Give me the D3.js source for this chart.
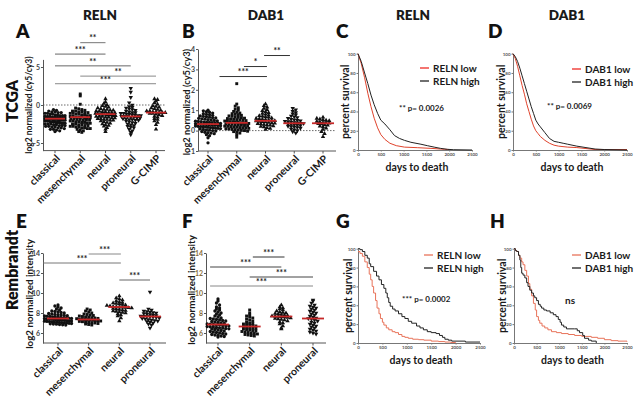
<!DOCTYPE html>
<html><head><meta charset="utf-8">
<script src="https://cdn.jsdelivr.net/npm/d3@7"></script>
<style>body{margin:0;background:#fff}svg{display:block}text{font-family:Lato,"Open Sans",sans-serif}</style>
</head><body><svg id="c" width="635" height="400"></svg>
<script>
// ---------- categories ----------
const catsTCGA = ["classical","mesenchymal","neural","proneural","G-CIMP"];
const catsRembrandt = ["classical","mesenchymal","neural","proneural"];

// ---------- A: TCGA RELN, log2 (cy5/cy3) ----------
const A_classical = [-3.5,-3.4,-3.3,-3.2,-3.2,-3.1,-3.0,-3.0,-2.9,-2.9,-2.8,-2.8,-2.7,-2.7,-2.7,-2.6,-2.6,-2.5,-2.5,-2.5,-2.4,-2.4,-2.4,-2.3,-2.3,-2.3,-2.2,-2.2,-2.2,-2.1,-2.1,-2.1,-2.0,-2.0,-2.0,-2.0,-1.9,-1.9,-1.9,-1.8,-1.8,-1.8,-1.8,-1.7,-1.7,-1.7,-1.6,-1.6,-1.6,-1.5,-1.5,-1.5,-1.4,-1.4,-1.4,-1.3,-1.3,-1.2,-1.2,-1.1,-1.1,-1.0,-1.0,-0.9,-0.9,-0.8,-0.7,-0.6];
const A_mesenchymal = [-3.6,-3.5,-3.4,-3.3,-3.2,-3.1,-3.1,-3.0,-3.0,-2.9,-2.9,-2.8,-2.8,-2.7,-2.7,-2.6,-2.6,-2.5,-2.5,-2.4,-2.4,-2.3,-2.3,-2.2,-2.2,-2.1,-2.1,-2.0,-2.0,-2.0,-1.9,-1.9,-1.8,-1.8,-1.7,-1.7,-1.7,-1.6,-1.6,-1.6,-1.5,-1.5,-1.4,-1.4,-1.3,-1.3,-1.2,-1.2,-1.1,-1.1,-1.0,-1.0,-0.9,-0.9,-0.8,-0.8,-0.7,-0.6,-0.5,-0.4,0.1,1.2,1.45];
const A_neural = [-3.5,-3.2,-3.0,-2.8,-2.7,-2.6,-2.5,-2.4,-2.3,-2.2,-2.1,-2.0,-2.0,-1.9,-1.9,-1.8,-1.8,-1.7,-1.7,-1.6,-1.6,-1.5,-1.5,-1.5,-1.4,-1.4,-1.3,-1.3,-1.3,-1.2,-1.2,-1.2,-1.1,-1.1,-1.0,-1.0,-1.0,-0.9,-0.9,-0.8,-0.8,-0.7,-0.7,-0.6,-0.6,-0.5,-0.4,-0.3,-0.2,-0.1,0.0,0.2,0.4,0.8];
const A_proneural = [-3.9,-3.6,-3.4,-3.2,-3.0,-2.9,-2.8,-2.7,-2.6,-2.5,-2.4,-2.3,-2.2,-2.1,-2.0,-2.0,-1.9,-1.9,-1.8,-1.8,-1.7,-1.7,-1.6,-1.6,-1.5,-1.5,-1.5,-1.4,-1.4,-1.3,-1.3,-1.2,-1.2,-1.1,-1.1,-1.0,-1.0,-0.9,-0.8,-0.7,-0.6,-0.5,-0.4,-0.3,-0.2,0.0,0.3,1.0,1.7,2.2];
const A_gcimp = [-3.2,-2.6,-2.3,-2.1,-1.9,-1.8,-1.6,-1.5,-1.4,-1.3,-1.2,-1.1,-1.1,-1.0,-1.0,-1.0,-0.9,-0.9,-0.8,-0.8,-0.7,-0.6,-0.5,-0.4,-0.3,-0.2,-0.1,0.1,0.3,0.5,0.7,0.8];
const A_medians = [-1.8,-1.6,-1.2,-1.5,-1.0];
const A_yTicks = [-5,0,5];

// ---------- B: TCGA DAB1 ----------
const B_classical = [-0.6,-0.35,-0.25,-0.2,-0.15,-0.12,-0.1,-0.08,-0.05,-0.02,0.0,0.02,0.04,0.06,0.08,0.1,0.11,0.12,0.14,0.15,0.16,0.18,0.19,0.2,0.21,0.22,0.24,0.25,0.26,0.27,0.28,0.3,0.31,0.32,0.33,0.34,0.35,0.36,0.38,0.39,0.4,0.41,0.42,0.44,0.45,0.46,0.48,0.5,0.52,0.54,0.56,0.58,0.6,0.62,0.64,0.66,0.68,0.7,0.72,0.75,0.78,0.8,0.83,0.86,0.9,0.93,0.97,1.0];
const B_mesenchymal = [-0.32,-0.2,-0.12,-0.08,-0.05,-0.03,0.0,0.01,0.03,0.05,0.06,0.08,0.09,0.11,0.12,0.14,0.15,0.17,0.18,0.2,0.21,0.22,0.24,0.25,0.27,0.28,0.29,0.31,0.32,0.33,0.35,0.36,0.37,0.38,0.4,0.41,0.43,0.44,0.46,0.47,0.49,0.5,0.52,0.54,0.55,0.57,0.59,0.61,0.63,0.65,0.67,0.7,0.72,0.75,0.78,0.8,0.83,0.86,0.9,0.94,1.0,1.05,1.12,1.2,1.3,2.3];
const B_neural = [0.05,0.1,0.14,0.18,0.2,0.23,0.26,0.28,0.3,0.32,0.34,0.36,0.38,0.4,0.42,0.44,0.45,0.47,0.48,0.5,0.52,0.54,0.56,0.58,0.6,0.62,0.65,0.68,0.7,0.73,0.76,0.8,0.84,0.88,0.92,0.97,1.02,1.08,1.15,1.22,1.3];
const B_proneural = [-0.12,-0.05,0.0,0.04,0.08,0.12,0.15,0.18,0.2,0.22,0.25,0.27,0.29,0.31,0.33,0.35,0.36,0.38,0.4,0.42,0.44,0.46,0.48,0.5,0.53,0.56,0.6,0.64,0.68,0.72,0.77,0.82,0.88,0.95,1.02,1.1];
const B_gcimp = [-0.3,-0.15,-0.05,0.05,0.12,0.18,0.22,0.26,0.29,0.32,0.34,0.36,0.38,0.4,0.42,0.45,0.48,0.5,0.53,0.56,0.6,0.65];
const B_medians = [0.32,0.38,0.48,0.36,0.36];
const B_yTicks = [-1,0,1,2,3,4];

// ---------- E: Rembrandt RELN ----------
const E_classical = [6.8,6.82,6.85,6.88,6.9,6.92,6.95,6.97,7.0,7.02,7.04,7.06,7.08,7.1,7.12,7.14,7.16,7.18,7.2,7.22,7.24,7.26,7.28,7.3,7.32,7.34,7.36,7.38,7.4,7.42,7.44,7.46,7.48,7.5,7.52,7.55,7.58,7.6,7.62,7.65,7.68,7.7,7.73,7.76,7.8,7.83,7.86,7.9,7.95,8.0,8.05,8.1,8.15,8.2,8.3,8.4,8.5,8.6,8.7,8.8];
const E_mesenchymal = [6.8,6.85,6.9,6.95,7.0,7.03,7.06,7.1,7.13,7.16,7.2,7.22,7.25,7.28,7.3,7.33,7.35,7.38,7.4,7.43,7.46,7.5,7.53,7.56,7.6,7.65,7.7,7.75,7.8,7.85,7.9,8.0,8.1,8.2,8.3,8.4];
const E_neural = [7.2,7.5,7.7,7.8,7.9,8.0,8.05,8.1,8.15,8.2,8.25,8.3,8.35,8.4,8.45,8.5,8.52,8.55,8.58,8.6,8.62,8.65,8.7,8.75,8.8,8.85,8.9,8.95,9.0,9.05,9.1,9.2,9.3,9.4,9.5,9.7];
const E_proneural = [6.5,6.8,6.9,7.0,7.1,7.15,7.2,7.25,7.3,7.35,7.4,7.45,7.5,7.55,7.6,7.62,7.65,7.68,7.7,7.75,7.8,7.85,7.9,7.95,8.0,8.05,8.1,8.15,8.2,8.3,8.4,10.1];
const E_medians = [7.45,7.35,8.6,7.65];
const EF_yTicks = [6,8,10,12,14];

// ---------- F: Rembrandt DAB1 ----------
const F_classical = [5.6,5.65,5.7,5.75,5.8,5.85,5.9,5.95,6.0,6.05,6.1,6.15,6.2,6.25,6.3,6.35,6.4,6.42,6.45,6.5,6.52,6.55,6.6,6.62,6.65,6.7,6.72,6.75,6.8,6.82,6.85,6.88,6.9,6.95,7.0,7.05,7.1,7.15,7.2,7.25,7.3,7.35,7.4,7.45,7.5,7.6,7.7,7.8,7.9,8.0,8.1,8.2,8.3,8.4,8.5,8.6,8.8,9.0,9.2,9.4];
const F_mesenchymal = [5.7,5.75,5.8,5.85,5.9,5.95,6.0,6.05,6.1,6.15,6.2,6.25,6.3,6.35,6.4,6.45,6.5,6.55,6.6,6.65,6.7,6.75,6.8,6.85,6.9,6.95,7.0,7.1,7.2,7.3,7.4,7.5,7.6,7.7,7.8,8.0,8.3];
const F_neural = [6.4,6.5,6.7,6.9,7.0,7.1,7.2,7.3,7.35,7.4,7.45,7.5,7.55,7.6,7.62,7.65,7.68,7.7,7.75,7.8,7.85,7.9,7.95,8.0,8.05,8.1,8.2,8.3,8.4,8.5,8.6,8.8];
const F_proneural = [5.9,6.0,6.1,6.2,6.3,6.4,6.5,6.6,6.7,6.8,6.9,7.0,7.1,7.2,7.3,7.4,7.45,7.5,7.6,7.7,7.8,7.9,8.0,8.1,8.2,8.3,8.4,8.5,8.6,8.7,8.8,9.0,9.2,9.3];
const F_medians = [6.85,6.65,7.65,7.45];

// ---------- survival curves [days, percent survival] ----------
const survTicksX = [0,500,1000,1500,2000,2500];
const survTicksY = [0,20,40,60,80,100];
const C_low  = [[0,100],[70,90],[145,75],[215,59],[285,45],[355,33],[430,23],[500,16],[590,11],[700,7],[840,4.5],[1020,3],[1310,2.4],[1600,1.7],[1900,0.7],[2000,0.5]];
const C_high = [[0,100],[70,92],[145,80],[215,69],[285,57],[355,47],[430,38],[500,31],[590,27],[700,21],[800,15],[910,12],[1020,10],[1160,8],[1380,6],[1520,4.5],[1670,3],[1810,1.7],[1960,0.7],[2100,0.3],[2500,0]];
const D_low  = [[0,100],[50,95],[100,87],[150,77],[200,67],[250,58],[300,48],[350,40],[400,32],[450,25],[500,20],[550,17],[600,14],[700,10],[800,7],[900,5],[1000,4],[1200,3],[1400,2.5],[1600,1.5],[1800,0.5],[2500,0.5]];
const D_high = [[0,100],[50,97],[100,92],[150,85],[200,77],[250,69],[300,61],[350,53],[400,45],[450,38],[500,31],[550,27],[600,24],[700,18],[800,12],[900,9],[1000,8],[1100,7],[1200,6],[1400,4],[1600,2.5],[1800,1],[2000,0.5],[2500,0]];
const G_low  = [[0,97],[40,95],[90,92],[140,86],[190,80],[230,73],[260,67],[290,60],[320,53],[360,45],[390,37],[430,31],[460,26],[500,22],[530,19],[580,16],[630,14],[700,12],[760,11],[830,9],[900,7],[960,6],[1030,5],[1120,4],[1240,3.5],[1350,3],[1500,2],[1650,1.5],[1780,1],[1900,0.5],[2000,0]];
const G_high = [[0,100],[40,99],[90,97],[140,93],[190,90],[230,84],[260,81],[320,76],[380,71],[430,67],[480,62],[530,58],[570,53],[600,48],[630,43],[660,39],[710,36],[760,34],[830,31],[900,28],[960,26],[1030,23],[1100,21],[1200,18],[1270,16],[1340,14],[1420,12],[1500,11],[1600,10],[1670,8],[1730,6],[1780,4],[1850,3],[1920,2],[2200,1],[2500,1]];
const H_low  = [[0,100],[30,98],[60,97],[100,93],[130,90],[170,86],[200,83],[240,77],[280,71],[320,63],[350,57],[390,50],[430,42],[470,35],[500,28],[540,24],[570,21],[620,18],[680,16],[750,14],[830,12],[940,11],[1050,10],[1200,9],[1340,8],[1500,7],[1710,6],[1850,5],[2000,3.5],[2150,2.5],[2300,2],[2500,1.5]];
const H_high = [[0,100],[30,98],[60,97],[100,93],[130,88],[150,80],[170,74],[200,72],[240,69],[280,64],[310,60],[350,56],[390,53],[430,50],[460,48],[500,45],[540,41],[580,39],[610,37],[660,35],[720,34],[800,32],[870,30],[930,28],[980,25],[1020,22],[1050,19],[1100,17],[1160,15],[1340,15],[1400,13],[1450,11],[1520,8],[1560,5],[1650,3],[1710,2],[1820,0]];

// ---------- drawing ----------
const svg = d3.select('#c');
const INK = '#1a1a1a';

function swarm(vals, y, cx, rowH, sp, half) {
  const pts = vals.map(v => ({v, py: y(v)})).sort((a,b) => a.py - b.py);
  const rows = d3.group(pts, p => Math.round(p.py / rowH));
  const out = [];
  for (const arr of rows.values()) {
    const n = arr.length;
    const s = n > 1 ? Math.min(sp, 2 * half / (n - 1)) : 0;
    arr.forEach((p, j) => out.push({x: cx + (j - (n - 1) / 2) * s, y: p.py}));
  }
  return out;
}

const shapeTypes = [d3.symbolCircle, d3.symbolSquare, d3.symbolTriangle, d3.symbolTriangle, d3.symbolTriangle];
const shapeRot = [0, 0, 0, 180, 0];

function dotPanel(c) {
  const g = svg.append('g');
  const x = d3.scalePoint().domain(c.cats).range([c.x0, c.x1]);
  const step = x.step();
  const pos = i => c.x0 + i * step;
  const y = d3.scaleLinear().domain(c.yDomain).range([c.yb, c.yt]);

  if (c.refLine !== undefined) {
    g.append('line').attr('x1', c.ax).attr('x2', c.axEnd)
      .attr('y1', y(c.refLine)).attr('y2', y(c.refLine))
      .attr('stroke', '#444').attr('stroke-width', 0.8).attr('stroke-dasharray', '1.5,1.5');
  }
  const ya = g.append('g').attr('transform', `translate(${c.ax},0)`)
    .call(d3.axisLeft(y).tickValues(c.yTicks).tickSize(2).tickSizeOuter(0).tickPadding(1).tickFormat(d => String(d)));
  ya.select('.domain').attr('stroke', '#555');
  ya.selectAll('.tick line').attr('stroke', '#555');
  ya.selectAll('.tick text').attr('font-size', 7).attr('fill', c.tickColor || '#444').attr('font-family', 'Lato, sans-serif').attr('font-weight', 700);
  g.append('line').attr('x1', c.ax).attr('x2', c.axEnd).attr('y1', c.yb).attr('y2', c.yb)
    .attr('stroke', '#555').attr('stroke-width', 1);
  g.selectAll(null).data(c.cats).join('line')
    .attr('x1', d => x(d)).attr('x2', d => x(d)).attr('y1', c.yb).attr('y2', c.yb + 2.5)
    .attr('stroke', '#555');
  g.selectAll(null).data(c.cats).join('text')
    .attr('transform', d => `translate(${x(d) + 3},${c.yb + 6}) rotate(-45)`)
    .attr('text-anchor', 'end').attr('dy', '0.35em')
    .attr('font-size', 10.5).attr('font-weight', 700).attr('fill', INK)
    .text(d => d);
  c.groups.forEach((vals, i) => {
    const pts = swarm(vals, y, x(c.cats[i]), c.rowH, c.sp, c.half[i]);
    const sym = d3.symbol().type(shapeTypes[i]).size(c.size);
    g.append('g').selectAll('path').data(pts).join('path')
      .attr('d', sym)
      .attr('transform', d => `translate(${d.x.toFixed(2)},${d.y.toFixed(2)}) rotate(${shapeRot[i]})`)
      .attr('fill', '#111');
  });
  g.selectAll(null).data(c.medians).join('line')
    .attr('x1', (d, i) => x(c.cats[i]) - c.mw).attr('x2', (d, i) => x(c.cats[i]) + c.mw)
    .attr('y1', d => y(d)).attr('y2', d => y(d))
    .attr('stroke', '#c62828').attr('stroke-width', 1.8);
  c.sig.forEach(([a, b, v, lab, col]) => {
    g.append('line').attr('x1', pos(a)).attr('x2', pos(b)).attr('y1', y(v)).attr('y2', y(v))
      .attr('stroke', col || '#555').attr('stroke-width', 1);
    g.append('text').attr('x', (pos(a) + pos(b)) / 2).attr('y', y(v) - 1.2)
      .attr('text-anchor', 'middle').attr('font-size', 8.5).attr('font-weight', 700).attr('fill', '#222')
      .text(lab);
  });
  g.append('text').attr('transform', `translate(${c.lx},${c.ly}) rotate(-90)`)
    .attr('text-anchor', 'middle').attr('dy', '0.35em')
    .attr('font-size', c.lfs || 9.5).attr('font-weight', 700).attr('fill', INK)
    .text(c.ylabel);
}

function survPanel(c) {
  const g = svg.append('g');
  const x = d3.scaleLinear().domain([0, 2500]).range([c.x0, c.x1]);
  const y = d3.scaleLinear().domain([0, 100]).range([c.yb, c.yt]);
  const xa = g.append('g').attr('transform', `translate(0,${c.yb})`)
    .call(d3.axisBottom(x).tickValues(survTicksX).tickSize(1.5).tickSizeOuter(0).tickPadding(1).tickFormat(d => String(d)));
  const ya = g.append('g').attr('transform', `translate(${c.x0},0)`)
    .call(d3.axisLeft(y).tickValues(survTicksY).tickSize(1.5).tickSizeOuter(0).tickPadding(1).tickFormat(d => String(d)));
  [xa, ya].forEach(a => {
    a.select('.domain').attr('stroke', '#777');
    a.selectAll('.tick line').attr('stroke', '#777');
    a.selectAll('.tick text').attr('font-size', 4.5).attr('fill', '#555').attr('font-weight', 700);
  });
  const line = d3.line().x(d => x(d[0])).y(d => y(d[1])).curve(c.step ? d3.curveStepAfter : d3.curveLinear);
  g.append('path').attr('d', line(c.low)).attr('fill', 'none').attr('stroke', c.red).attr('stroke-width', 1);
  g.append('path').attr('d', line(c.high)).attr('fill', 'none').attr('stroke', '#222').attr('stroke-width', 1);
  [[c.names[0], c.legRed, c.legY], [c.names[1], '#222', c.legY + 13]].forEach(([t, col, yy]) => {
    g.append('line').attr('x1', c.legX).attr('x2', c.legX + 9).attr('y1', yy).attr('y2', yy)
      .attr('stroke', col).attr('stroke-width', 1.3);
    g.append('text').attr('x', c.legX + 13).attr('y', yy).attr('dy', '0.35em')
      .attr('font-size', 10).attr('font-weight', 700).attr('fill', INK).text(t);
  });
  g.append('text').attr('x', c.pX).attr('y', c.pY).attr('dy', '0.35em')
    .attr('font-size', c.pfs || 8).attr('font-weight', 700).attr('fill', INK).text(c.pText);
  g.append('text').attr('transform', `translate(${c.lx},${(c.yb + c.yt) / 2}) rotate(-90)`)
    .attr('text-anchor', 'middle').attr('dy', '0.35em')
    .attr('font-size', 10.5).attr('font-weight', 700).attr('fill', INK).text('percent survival');
  g.append('text').attr('x', (c.x0 + c.x1) / 2 + 2).attr('y', c.xly).attr('text-anchor', 'middle').attr('dy', '0.35em')
    .attr('font-size', 10.5).attr('font-weight', 700).attr('fill', INK).text('days to death');
}

dotPanel({cats: catsTCGA, groups: [A_classical, A_mesenchymal, A_neural, A_proneural, A_gcimp], medians: A_medians,
  yDomain: [-6, 6], yb: 150.6, yt: 59.4, yTicks: A_yTicks, x0: 55, x1: 156, ax: 43, axEnd: 165, refLine: 0,
  rowH: 2.6, sp: 3.1, half: [10, 10, 10, 10, 10], size: 8.5, mw: 10, lx: 29, ly: 105, lfs: 8.5, ylabel: 'log2 normalized (cy5/cy3)',
  sig: [[1, 2, 8.2, '**', '#777'], [0, 2, 6.7, '***', '#666'], [0, 3, 5.15, '**', '#666'], [1, 4, 3.8, '**', '#888'], [0, 4, 2.8, '***', '#888']]});

dotPanel({cats: catsTCGA, groups: [B_classical, B_mesenchymal, B_neural, B_proneural, B_gcimp], medians: B_medians,
  yDomain: [-1, 4], yb: 151, yt: 49, yTicks: B_yTicks, x0: 208, x1: 323, ax: 198, axEnd: 336, refLine: 0,
  rowH: 2.6, sp: 3.1, half: [12.5, 12, 11.5, 11, 10], size: 8.5, mw: 11, lx: 187, ly: 102, lfs: 9.3, ylabel: 'log2 normalized (cy5/cy3)',
  sig: [[1.95, 2.85, 3.68, '**', '#333'], [1.25, 2.05, 3.14, '*', '#333'], [0.4, 2.05, 2.65, '***', '#333']]});

dotPanel({cats: catsRembrandt, groups: [E_classical, E_mesenchymal, E_neural, E_proneural], medians: E_medians,
  yDomain: [5, 14], yb: 343, yt: 253, yTicks: EF_yTicks, x0: 58, x1: 150, ax: 43, axEnd: 166,
  rowH: 2.6, sp: 3.1, half: [13.5, 12, 15, 13], size: 8.5, mw: 11, lx: 30, ly: 294, lfs: 9.8, ylabel: 'log2 normalized intensity',
  sig: [[1, 2.05, 13.9, '***', '#888'], [-0.48, 2.05, 13.0, '***', '#777'], [2, 3, 11.3, '***', '#666']]});

dotPanel({cats: catsRembrandt, groups: [F_classical, F_mesenchymal, F_neural, F_proneural], medians: F_medians,
  yDomain: [5, 14], yb: 343, yt: 253, yTicks: EF_yTicks, x0: 218, x1: 313, ax: 206, axEnd: 326, tickColor: '#8a6d3b',
  rowH: 2.6, sp: 3.1, half: [12.5, 11.5, 12, 13], size: 8.5, mw: 11, lx: 192, ly: 290, lfs: 9.8, ylabel: 'log2 normalized intensity',
  sig: [[1.1, 2.1, 13.6, '***', '#333'], [-0.25, 2.0, 12.6, '***', '#444'], [1.0, 3.0, 11.6, '***', '#444'], [-0.25, 3.0, 10.7, '***', '#888']]});

survPanel({x0: 358, x1: 472, yb: 150, yt: 53.7, low: C_low, high: C_high, red: '#e0432c', legRed: '#ee2a24',
  names: ['RELN low', 'RELN high'], legX: 420, legY: 68, pX: 399, pY: 108, pText: '** p= 0.0026', lx: 345, xly: 167});
survPanel({x0: 513, x1: 627, yb: 150, yt: 53.7, low: D_low, high: D_high, red: '#e0432c', legRed: '#ee2a24',
  names: ['DAB1 low', 'DAB1 high'], legX: 572, legY: 69, pX: 547, pY: 106, pText: '** p= 0.0069', lx: 501, xly: 167});
survPanel({x0: 358, x1: 480, yb: 343, yt: 248.7, low: G_low, high: G_high, red: '#e8735a', legRed: '#e8735a', step: true,
  names: ['RELN low', 'RELN high'], legX: 424, legY: 255, pX: 402, pY: 299, pText: '*** p= 0.0002', lx: 348, xly: 360});
survPanel({x0: 514, x1: 627, yb: 343, yt: 248.7, low: H_low, high: H_high, red: '#e8735a', legRed: '#e8735a', step: true,
  names: ['DAB1 low', 'DAB1 high'], legX: 572, legY: 255, pX: 565, pY: 300, pText: 'ns', pfs: 10, lx: 502, xly: 360});

const titles = [['RELN', 100, 15], ['DAB1', 266, 15], ['RELN', 413, 15], ['DAB1', 567, 15]];
svg.selectAll(null).data(titles).join('text')
  .attr('x', d => d[1]).attr('y', d => d[2]).attr('text-anchor', 'middle').attr('dy', '0.35em')
  .attr('font-size', 13.5).attr('font-weight', 800).attr('fill', INK).text(d => d[0]);
const letters = [['A', 16, 38], ['B', 182, 38], ['C', 336, 38], ['D', 488, 38], ['E', 16, 228], ['F', 182, 228], ['G', 336, 228], ['H', 490, 228]];
svg.selectAll(null).data(letters).join('text')
  .attr('x', d => d[1]).attr('y', d => d[2])
  .attr('font-size', 19).attr('font-weight', 800).attr('fill', '#111').text(d => d[0]);
const rows = [['TCGA', 12, 101], ['Rembrandt', 12, 270]];
svg.selectAll(null).data(rows).join('text')
  .attr('transform', d => `translate(${d[1]},${d[2]}) rotate(-90)`)
  .attr('text-anchor', 'middle').attr('dy', '0.35em')
  .attr('font-size', 16).attr('font-weight', 800).attr('fill', '#111').text(d => d[0]);
</script></body></html>
